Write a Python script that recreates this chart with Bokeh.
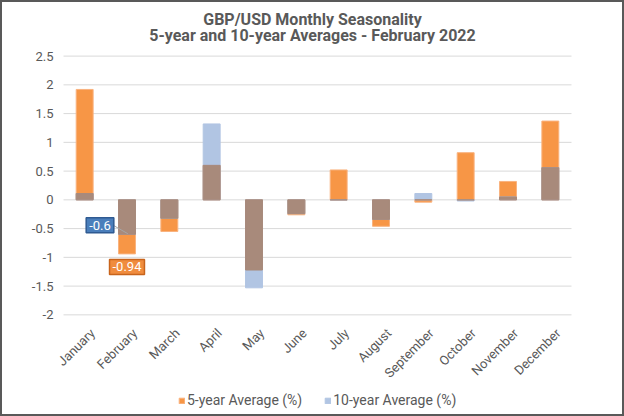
import math
from bokeh.plotting import figure
from bokeh.models import (Range1d, FixedTicker, Legend, LegendItem,
                          Label, ColumnDataSource)
from bokeh.core.properties import value
from bokeh.embed import file_html
from bokeh.resources import INLINE

# ---- data ----
months = ["January", "February", "March", "April", "May", "June", "July",
          "August", "September", "October", "November", "December"]
avg5 = [1.92, -0.94, -0.55, 0.60, -1.22, -0.26, 0.52, -0.46, -0.04, 0.82, 0.32, 1.37]
avg10 = [0.11, -0.60, -0.32, 1.32, -1.53, -0.24, 0.00, -0.34, 0.11, -0.02, 0.05, 0.56]
y_ticks = [-2, -1.5, -1, -0.5, 0, 0.5, 1, 1.5, 2, 2.5]
y_tick_labels = ["-2", "-1.5", "-1", "-0.5", "0", "0.5", "1", "1.5", "2", "2.5"]
title_lines = ["GBP/USD Monthly Seasonality", "5-year and 10-year Averages - February 2022"]
series_names = ["5-year Average (%)", "10-year Average (%)"]
callout_month = "February"

# ---- styles / layout ----
ORANGE = "#F79646"
BLUE = "#B1C5E3"
BROWN = "#A88A7B"
GREY_TXT = "#595959"
FONT = "Roboto"

PLOT_W = 508            # width of the category area (px)
PAD_PX = 14             # extra frame on each side so rotated labels are not clipped
CANVAS_H = 412          # canvas height (px), frame spans the whole height
PX_PER_UNIT = 57.5      # vertical scale of the value axis
TOP_PAD_PX = 53.6       # space above the top gridline (titles live here)
n = len(months)
PX_PER_CAT = PLOT_W / n
x_start = -PAD_PX / PX_PER_CAT
x_end = n + PAD_PX / PX_PER_CAT
y_min, y_max = y_ticks[0], y_ticks[-1]
y_end = y_max + TOP_PAD_PX / PX_PER_UNIT
y_start = y_end - CANVAS_H / PX_PER_UNIT

xs = [i + 0.5 for i in range(n)]
overlap = [(a if abs(a) < abs(b) else b) if a * b > 0 else 0 for a, b in zip(avg5, avg10)]
src = ColumnDataSource(dict(x=xs, m=months, a5=avg5, a10=avg10, ov=overlap))

p = figure(x_range=Range1d(x_start, x_end), y_range=Range1d(y_start, y_end),
           frame_width=PLOT_W + 2 * PAD_PX, frame_height=CANVAS_H, x_axis_location=None,
           output_backend="svg", toolbar_location=None,
           min_border_left=61 - PAD_PX, min_border_right=51 - PAD_PX,
           min_border_top=0, min_border_bottom=0,
           styles={"border": "2px solid #595959"})
p.outline_line_color = None
p.background_fill_color = "white"
p.border_fill_color = "white"

# horizontal gridlines spanning the category area only
p.segment(x0=[0] * len(y_ticks), x1=[n] * len(y_ticks), y0=y_ticks, y1=y_ticks,
          line_color="#D9D9D9", line_width=1)

r5 = p.vbar(x="x", top="a5", bottom=0, width=0.4, source=src,
            fill_color=ORANGE, line_color="#F9B27E", line_width=1)
r10 = p.vbar(x="x", top="a10", bottom=0, width=0.4, source=src,
             fill_color=BLUE, line_color=BLUE, line_width=1)
p.vbar(x="x", top="ov", bottom=0, width=0.4, source=src,
       fill_color=BROWN, line_color=BROWN, line_width=1)

# value axis
yax = p.yaxis[0]
yax.ticker = FixedTicker(ticks=y_ticks)
yax.major_label_overrides = {t: l for t, l in zip(y_ticks, y_tick_labels)}
yax.axis_line_color = None
yax.major_tick_line_color = None
yax.minor_tick_line_color = None
yax.major_tick_out = 0
yax.major_tick_in = 0
yax.major_label_text_font = FONT
yax.major_label_text_font_size = "13px"
yax.major_label_text_color = GREY_TXT
yax.major_label_standoff = 10 - PAD_PX

for g in list(p.xgrid) + list(p.ygrid):
    g.visible = False

# category labels (rotated, below the bottom gridline)
lab_y = y_min - 16 / PX_PER_UNIT
for xi, m in zip(xs, months):
    p.add_layout(Label(x=xi, y=lab_y, x_offset=8, text=m, angle=math.pi / 4,
                       text_align="right", text_baseline="middle",
                       text_font=FONT, text_font_size="13px", text_color=GREY_TXT))

# titles
ttl_src = ColumnDataSource(dict(
    x=[n / 2] * 2,
    y=[y_end - 16.5 / PX_PER_UNIT, y_end - 32.5 / PX_PER_UNIT],
    t=title_lines))
p.text(x="x", y="y", text="t", source=ttl_src, x_offset=-5,
       text_align="center", text_baseline="alphabetic",
       text_font=value(FONT), text_font_style="bold", text_font_size="16px",
       text_color=GREY_TXT)

# legend (inside the frame, at the bottom)
legend = Legend(items=[LegendItem(label=series_names[0], renderers=[r5]),
                       LegendItem(label=series_names[1], renderers=[r10])],
                orientation="horizontal", location=(115 + PAD_PX, 6),
                label_text_font=FONT, label_text_font_size="14px",
                label_text_color=GREY_TXT, glyph_width=7, glyph_height=7,
                label_height=15, label_standoff=2, spacing=22, padding=0, margin=0,
                border_line_color=None, background_fill_alpha=0)
p.add_layout(legend, "center")

# callouts for February
ci = months.index(callout_month)
cx = xs[ci]
v5, v10 = avg5[ci], avg10[ci]
p.segment(x0=[cx - 0.33], y0=[v10 + 0.16], x1=[cx + 0.02], y1=[v10 + 0.01],
          line_color="#A6A6A6", line_width=1)
p.add_layout(Label(x=cx, y=v10, x_offset=-27, y_offset=9, text=f"{v10:g}",
                   text_align="center", text_baseline="middle",
                   text_font=FONT, text_font_size="13px", text_color="white",
                   background_fill_color="#4A7EBB", border_line_color="#2F5A92",
                   border_line_width=1.5, padding=3))
p.add_layout(Label(x=cx, y=v5, x_offset=0, y_offset=-13, text=f"{v5:g}",
                   text_align="center", text_baseline="middle",
                   text_font=FONT, text_font_size="13px", text_color="white",
                   background_fill_color="#F08C3E", border_line_color="#C8641C",
                   border_line_width=1.5, padding=3))

open("out.html", "w").write(file_html(p, INLINE))
